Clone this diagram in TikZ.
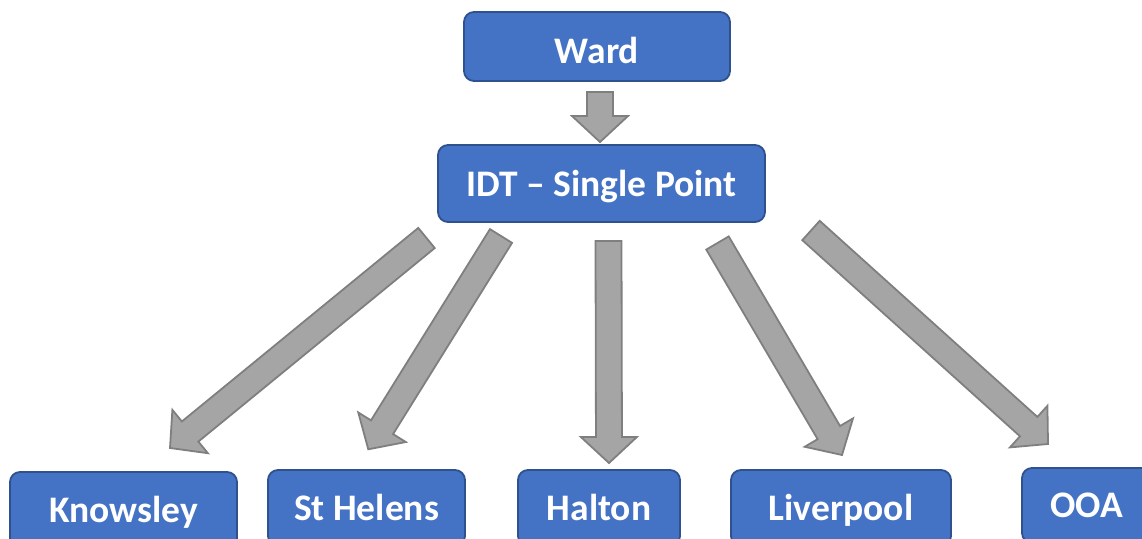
\documentclass[tikz,border=0pt]{standalone}
\usepackage{fontspec}
\setmainfont{Carlito}
\usetikzlibrary{calc}
\definecolor{boxfill}{HTML}{4472C4}
\definecolor{boxline}{HTML}{2F528F}
\definecolor{arrfill}{HTML}{A5A5A5}
\definecolor{arrline}{HTML}{7F7F7F}
\tikzset{
  box/.style={draw=boxline, fill=boxfill, line width=1.8pt, rounded corners=10pt,
    text=white, font=\fontsize{37.5}{44}\selectfont\bfseries, inner sep=0pt,
    text height=24pt, text depth=0pt},
  fat/.style={draw=arrline, fill=arrfill, line width=1.8pt, line join=miter},
}
\newcommand{\fatarrow}[3]{%
  \coordinate (#3h) at ($(#2)!26pt!(#1)$);
  \draw[fat] ($(#1)!13pt!90:(#2)$) -- ($(#3h)!13pt!90:(#2)$) -- ($(#3h)!28pt!90:(#2)$)
    -- (#2) -- ($(#3h)!28pt!-90:(#2)$) -- ($(#3h)!13pt!-90:(#2)$) -- ($(#1)!13pt!-90:(#2)$) -- cycle;
}
\begin{document}
\begin{tikzpicture}[x=1pt,y=-1pt]
\useasboundingbox (0,0) rectangle (1142,538);
% boxes
\node[box, minimum width=266pt, minimum height=69pt, text height=33pt] (ward) at (597,46.5) {Ward};
\node[box, minimum width=327pt, minimum height=77pt, text height=25pt] (idt) at (601.5,183.5) {IDT – Single Point};
\node[box, minimum width=227pt, minimum height=76pt] (know) at (123.5,510) {Knowsley};
\node[box, minimum width=197pt, minimum height=76pt] (sth) at (366.5,508) {St Helens};
\node[box, minimum width=162pt, minimum height=76pt] (halt) at (599,508) {Halton};
\node[box, minimum width=220pt, minimum height=76pt] (liv) at (841,508) {Liverpool};
\node[box, minimum width=130pt, minimum height=75pt] (ooa) at (1087,505.5) {OOA};
% arrow end points
\coordinate (a0s) at (600,92);
\coordinate (a0t) at (600,142);
\coordinate (a1s) at (426.5,238);
\coordinate (a1t) at (170,448);
\coordinate (a2s) at (501,236);
\coordinate (a2t) at (368.3,449.3);
\coordinate (a3s) at (608.5,241);
\coordinate (a3t) at (609,463);
\coordinate (a4s) at (717.5,243);
\coordinate (a4t) at (842,455);
\coordinate (a5s) at (811,230.5);
\coordinate (a5t) at (1048,444);
\fatarrow{a0s}{a0t}{a0}
\fatarrow{a1s}{a1t}{a1}
\fatarrow{a2s}{a2t}{a2}
\fatarrow{a3s}{a3t}{a3}
\fatarrow{a4s}{a4t}{a4}
\fatarrow{a5s}{a5t}{a5}
\end{tikzpicture}
\end{document}
